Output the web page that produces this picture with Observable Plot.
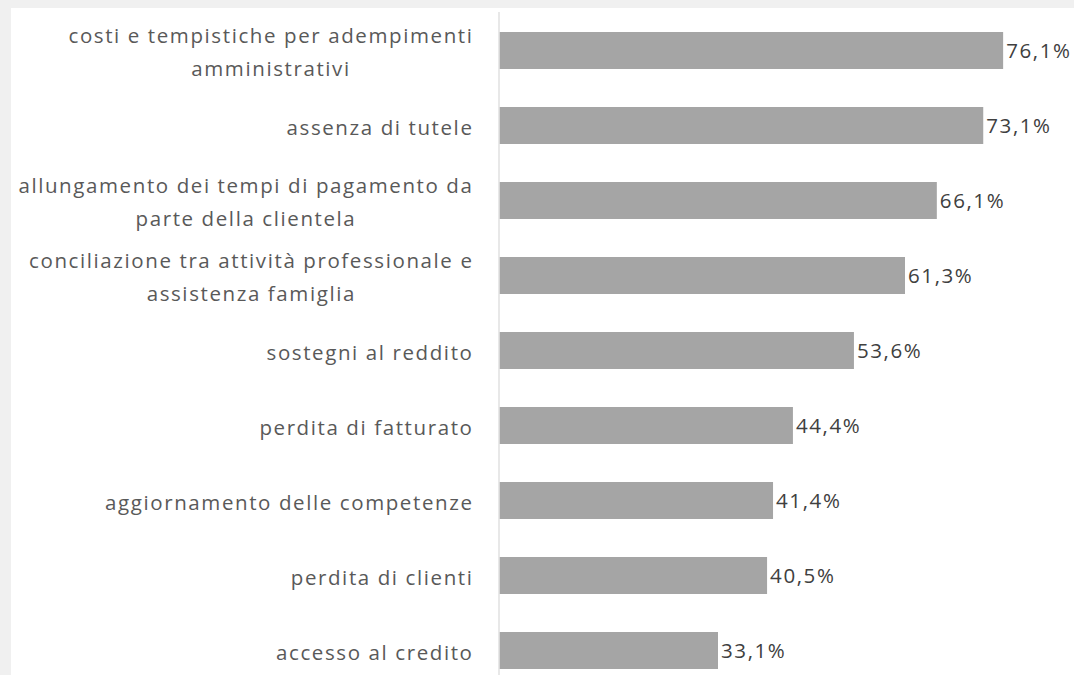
<!DOCTYPE html>
<html><head><meta charset="utf-8">
<script src="https://cdn.jsdelivr.net/npm/d3@7"></script>
<script src="https://cdn.jsdelivr.net/npm/@observablehq/plot@0.6"></script>
<style>
html,body{margin:0;padding:0;background:#f0f0f0;width:1074px;height:675px;overflow:hidden}
#chart{position:absolute;left:11px;top:8px;width:1063px;height:667px;background:#fff;overflow:hidden}
</style></head><body><div id="chart"></div>
<script>
const categories = [
  "costi e tempistiche per adempimenti\namministrativi",
  "assenza di tutele",
  "allungamento dei tempi di pagamento da\nparte della clientela",
  "conciliazione tra attività professionale e\nassistenza famiglia",
  "sostegni al reddito",
  "perdita di fatturato",
  "aggiornamento delle competenze",
  "perdita di clienti",
  "accesso al credito"
];
const values = [76.1, 73.1, 66.1, 61.3, 53.6, 44.4, 41.4, 40.5, 33.1];

const data = categories.map((c, i) => ({category: c, value: values[i]}));
const fmt = v => v.toFixed(1).replace(".", ",") + "%";

const plot = Plot.plot({
  width: 1063, height: 667,
  marginLeft: 487.5, marginRight: 45, marginTop: 4, marginBottom: 0,
  style: {fontFamily: "'Open Sans', sans-serif", fontSize: "20.5px", letterSpacing: "1.6px", background: "transparent", overflow: "visible"},
  x: {domain: [0, 80], axis: null},
  y: {domain: categories, range: [5, 680], paddingInner: 0.507, paddingOuter: 0.2535, axis: null},
  marks: [
    Plot.barX(data, {x: "value", y: "category", fill: "#a5a5a5", insetLeft: 1}),
    Plot.ruleX([0], {stroke: "#d9d9d9", strokeWidth: 1.2}),
    Plot.text(data, {x: 0, y: "category", text: "category", textAnchor: "end", dx: -25.5, dy: -2, lineHeight: 1.62, fill: "#595959", className: "catlabels"}),
    Plot.text(data, {x: "value", y: "category", text: d => fmt(d.value), textAnchor: "start", dx: 2.5, fill: "#404040"})
  ]
});
document.getElementById("chart").append(plot);

// Excel-style: multi-line category labels are centred within their right-aligned block
plot.querySelectorAll(".catlabels text").forEach(t => {
  const spans = t.querySelectorAll("tspan");
  if (spans.length > 1) {
    const w = t.getBBox().width;
    t.setAttribute("text-anchor", "middle");
    spans.forEach(s => s.setAttribute("x", -w / 2));
  }
});
</script>
</body></html>
